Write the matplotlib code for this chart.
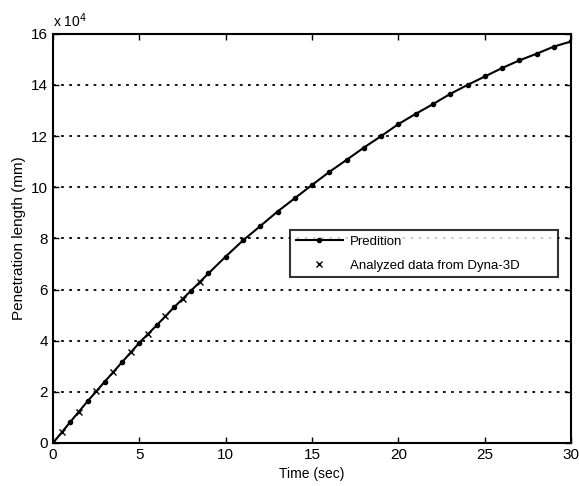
import numpy as np
import matplotlib
matplotlib.use("Agg")
import matplotlib.pyplot as plt

plt.rcParams['font.family'] = ['Liberation Sans', 'DejaVu Sans']

# prediction (penetration length in units of 1e4 mm)
t_pred = list(range(0, 31))
L_pred = [0, 0.82, 1.63, 2.40, 3.16, 3.92, 4.60, 5.30, 5.96, 6.63, 7.29,
          7.92, 8.48, 9.05, 9.57, 10.09, 10.60, 11.07, 11.55, 12.00, 12.47,
          12.87, 13.25, 13.65, 14.00, 14.33, 14.66, 14.96, 15.22, 15.50, 15.70]

# analyzed data from Dyna-3D
t_dyna = [0.5, 1.5, 2.5, 3.5, 4.5, 5.5, 6.5, 7.5, 8.5]
L_dyna = [0.42, 1.23, 2.02, 2.79, 3.54, 4.27, 4.96, 5.63, 6.30]

xticks = [0, 5, 10, 15, 20, 25, 30]
yticks = [0, 2, 4, 6, 8, 10, 12, 14, 16]

fig = plt.figure(figsize=(5.79, 4.86), dpi=100)
ax = fig.add_axes([0.0915, 0.0885, 0.895, 0.842])

ax.plot(t_pred, L_pred, '-', color='black', lw=1.5, marker='.', markersize=6,
        label='Predition')
ax.plot(t_dyna, L_dyna, 'x', color='black', markersize=5, mew=1.0,
        label='Analyzed data from Dyna-3D')

ax.set_xlim(0, 30)
ax.set_ylim(0, 16)
ax.set_xticks(xticks)
ax.set_yticks(yticks)
ax.tick_params(direction='in', top=True, right=True, length=4, width=1,
               labelsize=11)
for s in ax.spines.values():
    s.set_linewidth(1.5)

ax.yaxis.grid(True, linestyle=(0, (1.5, 3)), color='black', lw=1.3)
ax.set_axisbelow(True)

ax.text(0.0, 1.01, r'x 10$^4$', transform=ax.transAxes, fontsize=10,
        ha='left', va='bottom')

ax.set_xlabel('Time (sec)', fontsize=10)
ax.set_ylabel('Penetration length (mm)', fontsize=11)

leg = ax.legend(loc='lower left', bbox_to_anchor=(0.458, 0.405, 0.517, 0.12),
                mode='expand', fontsize=9.5, frameon=True, fancybox=False,
                edgecolor='black', handlelength=3.6, handletextpad=0.5,
                labelspacing=0.9, borderpad=0.4, borderaxespad=0)
leg.get_frame().set_linewidth(1.5)

fig.savefig('out.png', dpi=100)
